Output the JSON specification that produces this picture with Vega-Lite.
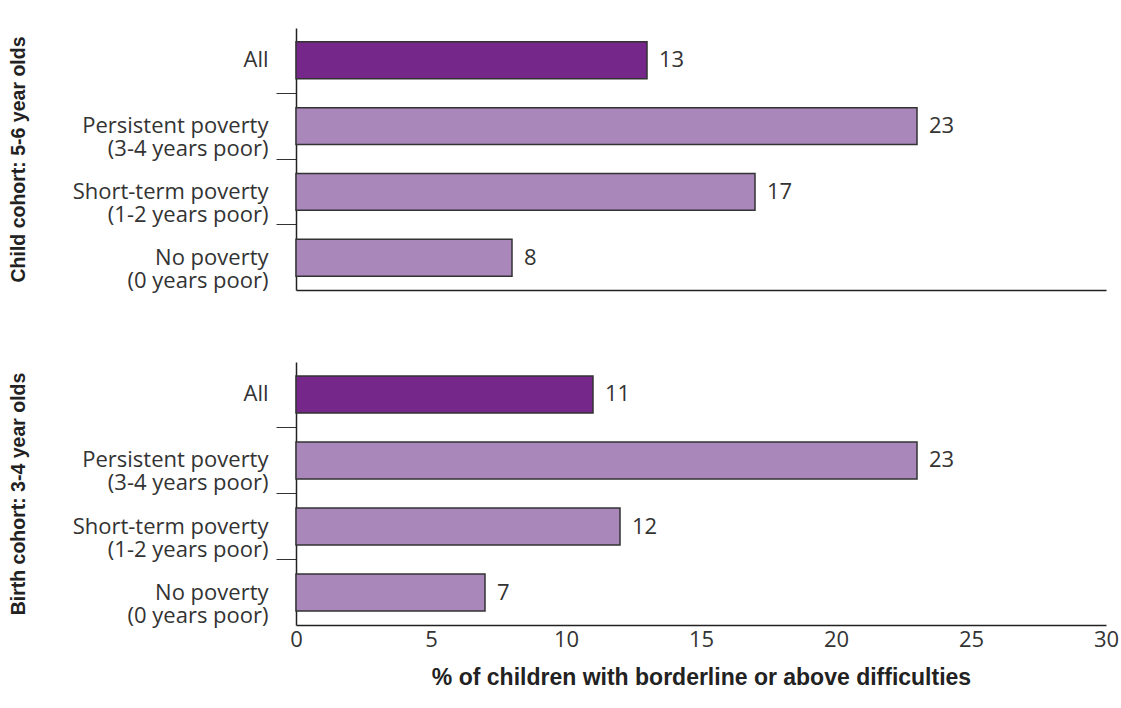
{
  "$schema": "https://vega.github.io/schema/vega-lite/v6.json",
  "background": "white",
  "padding": {"left": 8, "top": 28, "right": 15, "bottom": 5},
  "spacing": 70,
  "config": {
    "view": {"stroke": null},
    "font": "Open Sans",
    "axis": {"grid": false}
  },
  "datasets": {
    "rows": [
      {"cohort": "Child", "category": "All", "value": 13},
      {"cohort": "Child", "category": "Persistent poverty (3-4 years poor)", "value": 23},
      {"cohort": "Child", "category": "Short-term poverty (1-2 years poor)", "value": 17},
      {"cohort": "Child", "category": "No poverty (0 years poor)", "value": 8},
      {"cohort": "Birth", "category": "All", "value": 11},
      {"cohort": "Birth", "category": "Persistent poverty (3-4 years poor)", "value": 23},
      {"cohort": "Birth", "category": "Short-term poverty (1-2 years poor)", "value": 12},
      {"cohort": "Birth", "category": "No poverty (0 years poor)", "value": 7}
    ]
  },
  "vconcat": [
    {
      "width": 810,
      "height": 262,
      "data": {"name": "rows"},
      "transform": [{"filter": "datum.cohort == 'Child'"}],
      "encoding": {
        "y": {
          "field": "category", "type": "nominal",
          "sort": ["All", "Persistent poverty (3-4 years poor)", "Short-term poverty (1-2 years poor)", "No poverty (0 years poor)"],
          "scale": {"paddingInner": 0.44, "paddingOuter": 0.21},
          "axis": {
            "title": "Child cohort: 5-6 year olds",
            "titleFont": "Liberation Sans", "titleFontSize": 19.5, "titleFontWeight": "bold", "titleColor": "#222", "titlePadding": 68,
            "labelExpr": "datum.value == 'All' ? 'All' : [split(datum.value, ' (')[0], '(' + split(datum.value, ' (')[1]]",
            "labelFontSize": 22, "labelLineHeight": 23, "labelColor": "#333", "labelPadding": 8, "labelLimit": 400,
            "bandPosition": 1.393, "tickExtra": false, "tickSize": 20, "tickWidth": 1,
            "tickColor": {"condition": {"test": "datum.index >= 1", "value": "transparent"}, "value": "#333"},
            "domainColor": "#222", "domainWidth": 1.5
          }
        },
        "x": {
          "field": "value", "type": "quantitative",
          "scale": {"domain": [0, 30]},
          "axis": {"labels": false, "ticks": false, "title": null, "domainColor": "#222", "domainWidth": 1.5}
        }
      },
      "layer": [
        {
          "mark": {"type": "bar", "stroke": "#333", "strokeWidth": 1.5},
          "encoding": {
            "color": {"condition": {"test": "datum.category == 'All'", "value": "#76278A"}, "value": "#A987BA"}
          }
        },
        {
          "mark": {"type": "text", "align": "left", "baseline": "middle", "dx": 12, "fontSize": 22, "color": "#333"},
          "encoding": {"text": {"field": "value", "type": "quantitative"}}
        }
      ]
    },
    {
      "width": 810,
      "height": 263,
      "data": {"name": "rows"},
      "transform": [{"filter": "datum.cohort == 'Birth'"}],
      "encoding": {
        "y": {
          "field": "category", "type": "nominal",
          "sort": ["All", "Persistent poverty (3-4 years poor)", "Short-term poverty (1-2 years poor)", "No poverty (0 years poor)"],
          "scale": {"paddingInner": 0.44, "paddingOuter": 0.21},
          "axis": {
            "title": "Birth cohort: 3-4 year olds",
            "titleFont": "Liberation Sans", "titleFontSize": 19.5, "titleFontWeight": "bold", "titleColor": "#222", "titlePadding": 68,
            "labelExpr": "datum.value == 'All' ? 'All' : [split(datum.value, ' (')[0], '(' + split(datum.value, ' (')[1]]",
            "labelFontSize": 22, "labelLineHeight": 23, "labelColor": "#333", "labelPadding": 8, "labelLimit": 400,
            "bandPosition": 1.393, "tickExtra": false, "tickSize": 20, "tickWidth": 1,
            "tickColor": {"condition": {"test": "datum.index >= 1", "value": "transparent"}, "value": "#333"},
            "domainColor": "#222", "domainWidth": 1.5
          }
        },
        "x": {
          "field": "value", "type": "quantitative",
          "scale": {"domain": [0, 30]},
          "axis": {
            "values": [0, 5, 10, 15, 20, 25, 30],
            "ticks": false, "labelFlush": false,
            "labelFontSize": 22, "labelColor": "#333", "labelPadding": 4,
            "title": "% of children with borderline or above difficulties",
            "titleFont": "Liberation Sans", "titleFontSize": 23, "titleFontWeight": "bold", "titleColor": "#222", "titlePadding": 16,
            "domainColor": "#222", "domainWidth": 1.5
          }
        }
      },
      "layer": [
        {
          "mark": {"type": "bar", "stroke": "#333", "strokeWidth": 1.5},
          "encoding": {
            "color": {"condition": {"test": "datum.category == 'All'", "value": "#76278A"}, "value": "#A987BA"}
          }
        },
        {
          "mark": {"type": "text", "align": "left", "baseline": "middle", "dx": 12, "fontSize": 22, "color": "#333"},
          "encoding": {"text": {"field": "value", "type": "quantitative"}}
        }
      ]
    }
  ]
}
